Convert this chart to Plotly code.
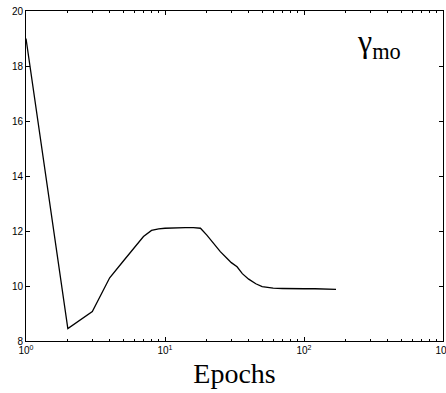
import plotly.graph_objects as go

epochs = [1, 2, 3, 4, 5, 6, 7, 8, 9, 10, 12, 14, 16, 18, 20, 22, 25, 28, 30, 33, 36,
          40, 45, 50, 55, 60, 70, 80, 100, 120, 150, 170]
gamma_mo = [19.0, 8.45, 9.07, 10.3, 10.9, 11.4, 11.8, 12.02, 12.08, 12.1, 12.12, 12.12,
            12.12, 12.1, 11.85, 11.6, 11.25, 11.0, 10.85, 10.7, 10.45, 10.25, 10.08,
            9.98, 9.94, 9.92, 9.91, 9.9, 9.9, 9.9, 9.88, 9.88]

x_tickvals = [1, 10, 100, 1000]
x_ticktext = ["10<sup>0</sup>", "10<sup>1</sup>", "10<sup>2</sup>", "10<sup>3</sup>"]
x_minor = [m * d for d in (1, 10, 100) for m in range(2, 10)]
y_tickvals = [8, 10, 12, 14, 16, 18, 20]

fig = go.Figure()
fig.add_trace(go.Scatter(x=epochs, y=gamma_mo, mode="lines",
                         line=dict(color="black", width=1.3), showlegend=False))

axis_common = dict(showline=True, linecolor="black", linewidth=1, mirror="ticks",
                   ticks="inside", ticklen=4, tickcolor="black", showgrid=False,
                   zeroline=False, ticklabeloverflow="allow", automargin=False,
                   tickfont=dict(family="Liberation Sans", size=10, color="black"))

fig.update_xaxes(type="log", range=[0, 3], tickvals=x_tickvals, ticktext=x_ticktext,
                 minor=dict(tickvals=x_minor, ticks="inside", ticklen=2, tickcolor="black"),
                 title=dict(text="Epochs", font=dict(family="Liberation Serif", size=28, color="black"),
                            standoff=8),
                 **axis_common)
fig.update_yaxes(range=[8, 20], tickvals=y_tickvals, **axis_common)

fig.add_annotation(xref="paper", yref="paper", x=0.905, y=0.9, text="γ<sub>mo</sub>",
                   showarrow=False, yanchor="middle",
                   font=dict(family="Liberation Serif", size=32, color="black"))

fig.update_layout(width=446, height=393, margin=dict(l=26, r=3, t=11, b=52),
                  plot_bgcolor="white", paper_bgcolor="white")
fig.write_html("out.html")
